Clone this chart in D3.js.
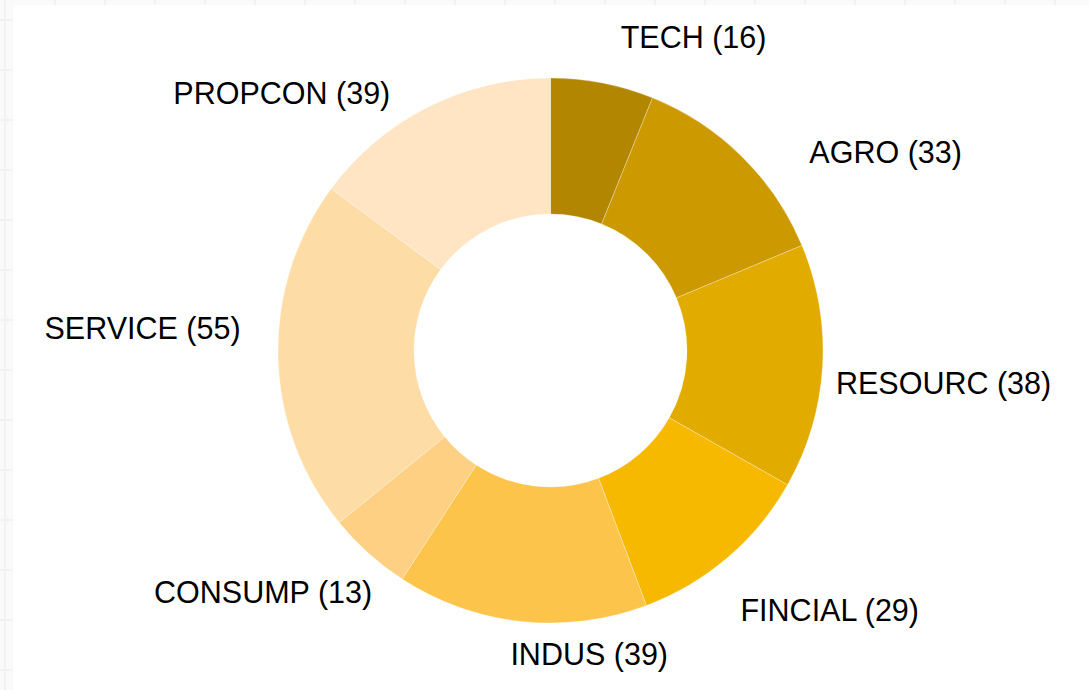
<!DOCTYPE html>
<html>
<head>
<meta charset="utf-8">
<script src="https://cdn.jsdelivr.net/npm/d3@7"></script>
<style>
  html, body { margin: 0; padding: 0; width: 1089px; height: 690px; overflow: hidden; background: #fafafa; }
  svg { display: block; }
  .lbl { font-family: "Liberation Sans", Arial, Helvetica, sans-serif; font-size: 30.5px; fill: #000; }
</style>
</head>
<body>
<svg id="chart" width="1089" height="690"></svg>
<script>
// ---- data ----
const categories = ["TECH", "AGRO", "RESOURC", "FINCIAL", "INDUS", "CONSUMP", "SERVICE", "PROPCON"];
const counts     = [16, 33, 38, 29, 39, 13, 55, 39];
const colors     = ["#b38600", "#cc9a00", "#e2ab00", "#f6b900", "#fdc44b", "#fdd084", "#fedca6", "#ffe5c4"];

// ---- layout (label nudges relative to rule-based anchor) ----
const labelNudge = [[13, -8], [48, 26], [-14, 25.5], [-5, 42.5], [71, 16.5], [22, 29.5], [-10, -18.5], [-25, 21.5]];

const W = 1089, H = 690;
const cx = 550.5, cy = 350.5, rOuter = 272.5, rInner = 136.5, rLabel = 300;

const svg = d3.select("#chart");

// faint background grid
const grid = svg.append("g");
for (let x = 5; x < W; x += 50) grid.append("line").attr("x1", x).attr("x2", x).attr("y1", 0).attr("y2", H)
  .attr("stroke", "#f2f2f2").attr("stroke-width", 2);
for (let y = 20; y < H; y += 50) grid.append("line").attr("x1", 0).attr("x2", W).attr("y1", y).attr("y2", y)
  .attr("stroke", "#f2f2f2").attr("stroke-width", 2);

// white panel
svg.append("rect").attr("x", 13).attr("y", 5).attr("width", W - 13).attr("height", H - 5).attr("fill", "#ffffff");

const data = categories.map((c, i) => ({ cat: c, value: counts[i], color: colors[i], i }));

const pie = d3.pie().value(d => d.value).sort(null).startAngle(0).endAngle(2 * Math.PI);
const arcs = pie(data);
const arc = d3.arc().innerRadius(rInner).outerRadius(rOuter);

const g = svg.append("g").attr("transform", `translate(${cx},${cy})`);
g.selectAll("path.slice").data(arcs).join("path")
  .attr("class", "slice")
  .attr("d", arc)
  .attr("fill", d => d.data.color)
  .attr("stroke", "rgba(255,255,255,0.45)")
  .attr("stroke-width", 0.6);

g.selectAll("text.lbl").data(arcs).join("text")
  .attr("class", "lbl")
  .each(function(d) {
    const a = (d.startAngle + d.endAngle) / 2;
    const sx = Math.sin(a), sy = -Math.cos(a);
    const n = labelNudge[d.data.i];
    const x = rLabel * sx + n[0];
    const y = rLabel * sy + n[1];
    const anchor = Math.abs(sx) < 0.15 ? "middle" : (sx > 0 ? "start" : "end");
    d3.select(this).attr("x", x).attr("y", y).attr("text-anchor", anchor)
      .text(`${d.data.cat} (${d.data.value})`);
  });
</script>
</body>
</html>
